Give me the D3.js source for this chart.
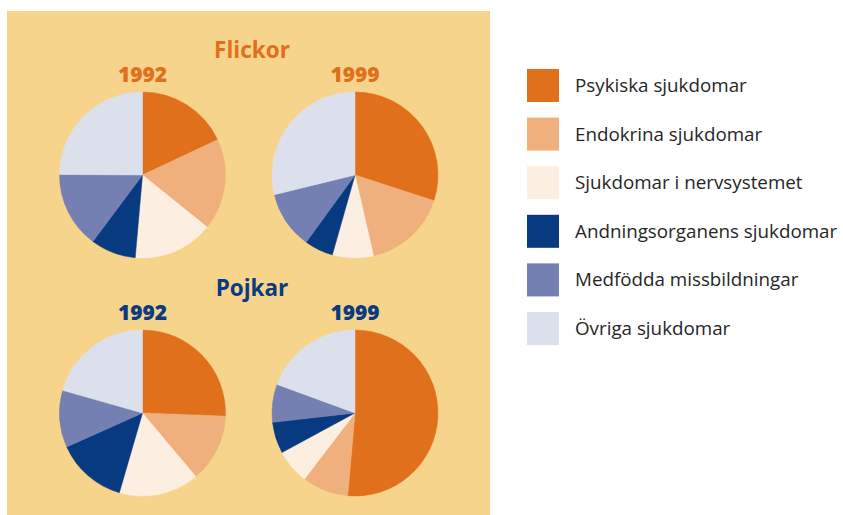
<!DOCTYPE html>
<html>
<head>
<meta charset="utf-8">
<script src="https://cdn.jsdelivr.net/npm/d3@7"></script>
<style>
  body { margin: 0; background: #fff; }
  svg { display: block; }
</style>
</head>
<body>
<div id="chart"></div>
<script>
// kategorier (legend)
var categories = [
    "Psykiska sjukdomar",
    "Endokrina sjukdomar",
    "Sjukdomar i nervsystemet",
    "Andningsorganens sjukdomar",
    "Medfödda missbildningar",
    "Övriga sjukdomar"
];
var colors = ["#e0701c", "#f0b07e", "#fcefe2", "#073a80", "#7480b2", "#dce0ec"];

var groups = ["Flickor", "Pojkar"];
var years = ["1992", "1999"];

// andelar i procent
var flickor1992 = [18, 17.8, 15.6, 8.8, 14.9, 24.9];
var flickor1999 = [30, 16.4, 8, 5.6, 11.2, 28.8];
var pojkar1992 = [25.6, 13.3, 15.6, 13.8, 11.1, 20.6];
var pojkar1999 = [51.4, 9, 6.7, 6.1, 7.4, 19.4];

var pies = [
    { group: 0, year: 0, values: flickor1992 },
    { group: 0, year: 1, values: flickor1999 },
    { group: 1, year: 0, values: pojkar1992 },
    { group: 1, year: 1, values: pojkar1999 }
];

var width = 843, height = 515;
var groupColors = ["#e0701c", "#0a3a80"];
var radius = 83;

var svg = d3.select("#chart").append("svg")
    .attr("width", width)
    .attr("height", height);

// bakgrundsruta
svg.append("rect")
    .attr("x", 7)
    .attr("y", 11)
    .attr("width", 483)
    .attr("height", 504)
    .attr("fill", "#f7d48b");

// kolumner och rader
var x = d3.scaleOrdinal().domain(years).range([142.5, 355]);
var y = d3.scaleOrdinal().domain(groups).range([175, 413]);

var pie = d3.pie().sort(null).value(function (d) { return d; });
var arc = d3.arc().innerRadius(0).outerRadius(radius);

groups.forEach(function (g, i) {
    svg.append("text")
        .attr("x", 252)
        .attr("y", y(g) - 117)
        .attr("text-anchor", "middle")
        .style("font-family", "'Open Sans', sans-serif")
        .style("font-weight", "bold")
        .style("font-size", "22.5px")
        .style("fill", groupColors[i])
        .text(g);
});

pies.forEach(function (p) {
    var g = groups[p.group], yr = years[p.year];
    var cx = x(yr), cy = y(g);

    svg.append("text")
        .attr("x", cx)
        .attr("y", cy - 93)
        .attr("text-anchor", "middle")
        .style("font-family", "'Open Sans', sans-serif")
        .style("font-weight", "800")
        .style("font-size", "21px")
        .style("fill", groupColors[p.group])
        .text(yr);

    var grp = svg.append("g")
        .attr("transform", "translate(" + cx + "," + cy + ")");

    grp.selectAll("path")
        .data(pie(p.values))
        .enter().append("path")
        .attr("d", arc)
        .attr("fill", function (d, i) { return colors[i]; })
        .attr("stroke", function (d, i) { return colors[i]; })
        .attr("stroke-width", 0.5);
});

// legend
var legend = svg.append("g");
var item = legend.selectAll("g")
    .data(categories)
    .enter().append("g")
    .attr("transform", function (d, i) { return "translate(527," + (69 + i * 48.6) + ")"; });

item.append("rect")
    .attr("width", 32)
    .attr("height", 33)
    .attr("fill", function (d, i) { return colors[i]; });

item.append("text")
    .attr("x", 48)
    .attr("y", 23)
    .style("font-family", "'Open Sans', sans-serif")
    .style("font-size", "18.8px")
    .style("fill", "#262626")
    .text(function (d) { return d; });
</script>
</body>
</html>
